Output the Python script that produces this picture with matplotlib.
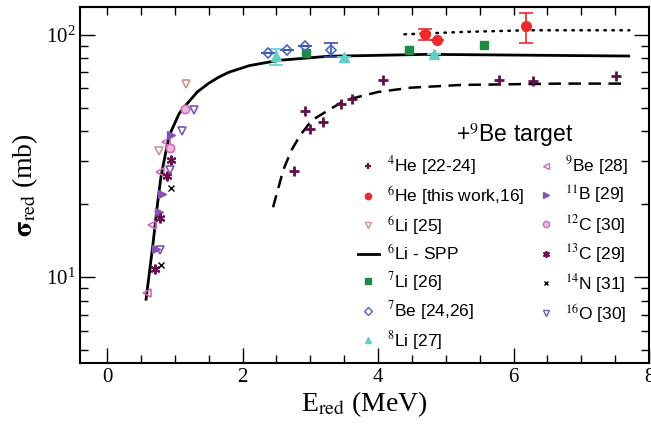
import matplotlib.pyplot as plt
from matplotlib.lines import Line2D
from matplotlib.ticker import MultipleLocator, LogLocator, NullFormatter

plt.rcParams['font.family'] = ['Liberation Serif', 'DejaVu Serif']
plt.rcParams['mathtext.fontset'] = 'stix'

# calculations
spp_x = [0.575, 0.672, 0.745, 0.795, 0.891, 0.941, 1.063, 1.161, 1.331, 1.50, 1.649, 1.80, 2.10, 2.53, 3.26, 4.73, 7.70]
spp_y = [8.1, 13.3, 20.1, 25.9, 35.5, 39.7, 47.2, 51.1, 58.0, 63.0, 66.8, 70.0, 74.5, 78.3, 81.4, 82.9, 81.6]
dash_x = [2.45, 2.60, 2.72, 2.85, 3.02, 3.51, 4.0, 4.48, 5.22, 6.68, 7.66]
dash_y = [19.4, 27.6, 33.3, 38.4, 44.3, 53.6, 58.0, 60.4, 62.0, 62.8, 62.8]
dot_x = [4.39, 5.22, 6.19, 7.71]
dot_y = [100.3, 102.5, 104.2, 104.2]

# data sets
he4_x = [2.76, 2.92, 2.99, 3.19, 3.46, 3.61, 4.08, 5.78, 6.29, 7.51]
he4_y = [27.3, 48.3, 40.7, 43.6, 51.5, 54.5, 64.8, 64.8, 64.1, 67.5]
he6_x = [4.70, 4.87, 6.18]
he6_y = [101.0, 94.7, 108.2]
he6_lo = [5.6, 0.0, 15.5]
he6_hi = [4.9, 0.0, 14.6]
li6_x = [1.16, 0.77]
li6_y = [62.8, 33.1]
li7_x = [2.93, 4.45, 5.57]
li7_y = [84.3, 86.2, 90.3]
be7_x = [2.37, 2.65, 2.92, 3.30]
be7_y = [84.3, 86.2, 89.5, 86.7]
be7_lo = [0.0, 0.0, 0.0, 5.9]
be7_hi = [0.0, 0.0, 0.0, 5.9]
li8_x = [2.50, 3.50, 4.82]
li8_y = [81.6, 80.8, 82.9]
li8_lo = [6.9, 0.0, 0.0]
li8_hi = [5.4, 0.0, 0.0]
be9_x = [0.87, 0.78, 0.67, 0.59]
be9_y = [36.0, 27.1, 16.4, 8.6]
b11_x = [0.94, 0.81, 0.77, 0.72]
b11_y = [38.4, 22.0, 18.5, 13.0]
c12_x = [1.15, 0.93]
c12_y = [49.5, 34.1]
c13_x = [0.95, 0.89, 0.78, 0.70]
c13_y = [30.5, 26.1, 17.6, 10.8]
n14_x = [0.95, 0.80]
n14_y = [23.4, 11.2]
o16_x = [1.28, 1.10, 0.93, 0.78]
o16_y = [49.0, 40.0, 27.6, 12.9]

fig = plt.figure(figsize=(6.51, 4.29), dpi=100)
ax = fig.add_axes([80 / 651, 1 - 363 / 429, 569 / 651, 356 / 429])
ax.set_yscale('log')

ax.plot(spp_x, spp_y, color='black', lw=2)
ax.plot(dash_x, dash_y, color='black', lw=1.8, ls=(0, (5, 3)))
ax.plot(dot_x, dot_y, color='black', lw=1.8, ls=(0, (0.6, 2.6)), dash_capstyle='round')

ms = 6
ax.plot(he4_x, he4_y, '+', color='#5e1048', ms=7, mew=2, ls='none')
ax.errorbar(he6_x, he6_y, yerr=[he6_lo, he6_hi], fmt='o', color='#ee2a2a', ms=7,
            capsize=5, elinewidth=1.2, capthick=1.2)
ax.plot(li6_x, li6_y, 'v', mfc='none', mec='#c89890', ms=ms, mew=1.2, ls='none')
ax.plot(li7_x, li7_y, 's', color='#1f8a46', ms=6, ls='none')
ax.errorbar(be7_x, be7_y, yerr=[be7_lo, be7_hi], fmt='D', mfc='none', mec='#4a68c0',
            ecolor='#3a52b0', ms=5, mew=1.2, capsize=5, elinewidth=1.2, capthick=1.2)
ax.errorbar(li8_x, li8_y, yerr=[li8_lo, li8_hi], fmt='^', color='#62d0c6', ms=7,
            capsize=5, elinewidth=1.2, capthick=1.2)
ax.plot(be9_x, be9_y, '<', mfc='none', mec='#d466bc', ms=ms, mew=1.2, ls='none')
ax.plot(b11_x, b11_y, '>', color='#8552b4', ms=ms, ls='none')
ax.plot(c12_x, c12_y, 'o', mfc='#ecb8de', mec='#cc6cbc', ms=ms, mew=1.2, ls='none')
ax.plot(c13_x, c13_y, marker=(6, 2, 0), color='#6a1050', ms=7, mew=1.5, ls='none')
ax.plot(n14_x, n14_y, 'x', color='black', ms=4, mew=1, ls='none')
ax.plot(o16_x, o16_y, 'v', mfc='none', mec='#7a58b2', ms=ms, mew=1.2, ls='none')

ax.set_xlim(-0.4, 8.0)
ax.set_ylim(4.42, 130)
ax.xaxis.set_major_locator(MultipleLocator(2))
ax.xaxis.set_minor_locator(MultipleLocator(0.5))
ax.yaxis.set_major_locator(LogLocator(base=10))
ax.yaxis.set_minor_locator(LogLocator(base=10, subs=range(2, 10)))
ax.yaxis.set_minor_formatter(NullFormatter())
ax.tick_params(which='both', direction='in', right=True, labelsize=15, width=1)
ax.tick_params(which='major', length=11)
ax.tick_params(which='minor', length=6)
ax.tick_params(axis='x', which='both', top=False)
top = ax.secondary_xaxis('top')
top.set_xticks([x * 0.5 for x in range(0, 16)])
top.tick_params(direction='in', length=6, width=1, labeltop=False)
for s in ax.spines.values():
    s.set_linewidth(1.5)
top.spines['top'].set_linewidth(1.5)

ax.set_xlabel(r'E$_{\rm red}$ (MeV)', fontsize=20, labelpad=2)
ax.set_ylabel(r'$\mathbf{\sigma}_{\rm red}$ (mb)', fontsize=20, labelpad=4)

lsize = 4.5
handles = [
    Line2D([], [], marker='+', color='#5e1048', ms=5, mew=1.6, ls='none'),
    Line2D([], [], marker='o', color='#ee2a2a', ms=lsize, ls='none'),
    Line2D([], [], marker='v', mfc='none', mec='#c89890', ms=lsize, mew=1, ls='none'),
    Line2D([], [], color='black', lw=2),
    Line2D([], [], marker='s', color='#1f8a46', ms=lsize, ls='none'),
    Line2D([], [], marker='D', mfc='none', mec='#4a68c0', ms=4, mew=1, ls='none'),
    Line2D([], [], marker='^', color='#62d0c6', ms=lsize, ls='none'),
    Line2D([], [], marker='<', mfc='none', mec='#d466bc', ms=lsize, mew=1, ls='none'),
    Line2D([], [], marker='>', color='#8552b4', ms=lsize, ls='none'),
    Line2D([], [], marker='o', mfc='#ecb8de', mec='#cc6cbc', ms=lsize, mew=1, ls='none'),
    Line2D([], [], marker=(6, 2, 0), color='#6a1050', ms=5, mew=1.2, ls='none'),
    Line2D([], [], marker='x', color='black', ms=3.5, mew=1, ls='none'),
    Line2D([], [], marker='v', mfc='none', mec='#7a58b2', ms=lsize, mew=1, ls='none'),
]
labels = [r'$^4$He [22-24]', r'$^6$He [this work,16]', r'$^6$Li [25]', r'$^6$Li - SPP',
          r'$^7$Li [26]', r'$^7$Be [24,26]', r'$^8$Li [27]',
          r'$^9$Be [28]', r'$^{11}$B [29]', r'$^{12}$C [30]', r'$^{13}$C [29]',
          r'$^{14}$N [31]', r'$^{16}$O [30]']
sans = ['Liberation Sans', 'DejaVu Sans']
ax.legend(handles, labels, ncol=2, loc='upper left', bbox_to_anchor=(0.467, 0.62),
          frameon=False, prop={'family': sans, 'size': 12.5},
          handlelength=1.2, handletextpad=0.5, columnspacing=0.6, labelspacing=0.38,
          borderpad=0.2)
ax.text(0.764, 0.642, r'+$^9$Be target', transform=ax.transAxes, ha='center', va='center',
        family=sans, fontsize=16.5)

fig.savefig('out.png', dpi=100)
